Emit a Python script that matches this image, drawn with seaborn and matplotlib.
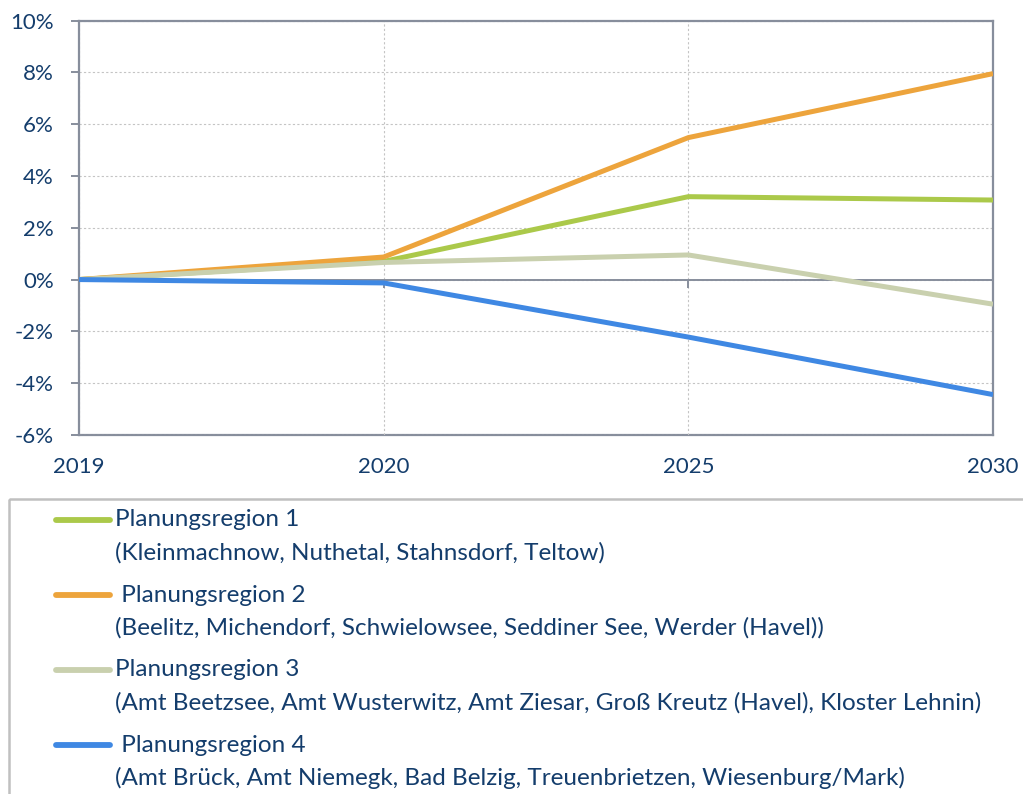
import matplotlib
matplotlib.use("Agg")
import matplotlib.pyplot as plt
from matplotlib.lines import Line2D
from matplotlib.patches import Rectangle
from matplotlib.ticker import FuncFormatter, MultipleLocator
import pandas as pd
import seaborn as sns

# Population change relative to 2019 (fraction)
years = ["2019", "2020", "2025", "2030"]
region_1 = [0.0, 0.0070, 0.0320, 0.0307]
region_2 = [0.0, 0.0087, 0.0548, 0.0795]
region_3 = [0.0, 0.0066, 0.0095, -0.0095]
region_4 = [0.0, -0.0013, -0.0222, -0.0444]

series_names = ["Planungsregion 1", "Planungsregion 2",
                "Planungsregion 3", "Planungsregion 4"]
series_members = [
    "(Kleinmachnow, Nuthetal, Stahnsdorf, Teltow)",
    "(Beelitz, Michendorf, Schwielowsee, Seddiner See, Werder (Havel))",
    "(Amt Beetzsee, Amt Wusterwitz, Amt Ziesar, Groß Kreutz (Havel), Kloster Lehnin)",
    "(Amt Brück, Amt Niemegk, Bad Belzig, Treuenbrietzen, Wiesenburg/Mark)",
]
legend_titles = ["Planungsregion 1", " Planungsregion 2",
                 "Planungsregion 3", " Planungsregion 4"]
colors = ["#abc94a", "#eda43c", "#c9d0ae", "#3f88e3"]

sns.set_theme(style="white")
plt.rcParams["font.family"] = ["Lato", "DejaVu Sans"]

text_color = "#143d6c"
spine_color = "#878e9c"
grid_color = "#c4c4c4"

rows = []
for name, vals in zip(series_names, [region_1, region_2, region_3, region_4]):
    for i, (yr, v) in enumerate(zip(years, vals)):
        rows.append({"pos": i, "Jahr": yr, "Region": name, "Wert": v})
df = pd.DataFrame(rows)

fig = plt.figure(figsize=(10.23, 7.94), dpi=100)
W, H = 1023, 794
ax = fig.add_axes([79 / W, 1 - 435 / H, (993 - 79) / W, (435 - 20.5) / H])

sns.lineplot(data=df, x="pos", y="Wert", hue="Region", hue_order=series_names,
             palette=colors, linewidth=3.6, sort=False, legend=False, ax=ax,
             solid_capstyle="butt", zorder=3)

ax.set_xlim(0, 3)
ax.set_ylim(-0.06, 0.10)
ax.set_xlabel("")
ax.set_ylabel("")
ax.yaxis.set_major_locator(MultipleLocator(0.02))
ax.yaxis.set_major_formatter(FuncFormatter(lambda v, p: f"{round(v * 100):d}%"))
ax.set_xticks(range(len(years)))

# grid
ax.grid(True, axis="both", color=grid_color, linestyle=(0, (2, 2)), linewidth=0.8)
ax.set_axisbelow(True)

for side in ["left", "right", "top"]:
    ax.spines[side].set_visible(True)
    ax.spines[side].set_color(spine_color)
    ax.spines[side].set_linewidth(1.6)

# primary x-axis drawn along the zero line with small tick marks
ax.spines["bottom"].set_position(("data", 0))
ax.spines["bottom"].set_color(spine_color)
ax.spines["bottom"].set_linewidth(1.4)
ax.spines["bottom"].set_zorder(2)
ax.tick_params(axis="x", bottom=True, length=6, width=1.4, color=spine_color,
               direction="out", labelbottom=False)
ax.tick_params(axis="y", left=True, length=6, width=1.4, color=spine_color,
               labelsize=16, labelcolor=text_color, pad=12)

# year labels along the lower border
sec = ax.secondary_xaxis("bottom")
sec.set_xticks(range(len(years)))
sec.set_xticklabels(years)
sec.tick_params(axis="x", length=0, labelsize=16, labelcolor=text_color, pad=16)
sec.spines["bottom"].set_color(spine_color)
sec.spines["bottom"].set_linewidth(1.6)

# legend box below the chart
leg_ax = fig.add_axes([0, 0, 1, 1], facecolor="none")
leg_ax.set_axis_off()
leg_ax.set_xlim(0, W)
leg_ax.set_ylim(H, 0)
leg_ax.add_patch(Rectangle((9, 499), 1040, 320, fill=False,
                           edgecolor="#c0c0c0", linewidth=1.8, clip_on=False))
y0 = 520
for i, (title, members, c) in enumerate(zip(legend_titles, series_members, colors)):
    y = y0 + i * 75
    leg_ax.add_line(Line2D([56, 110], [y, y], color=c, linewidth=4.2,
                           solid_capstyle="round"))
    leg_ax.text(115, y, title, fontsize=17.5, color=text_color, va="center", ha="left")
    leg_ax.text(115, y + 33, members, fontsize=17.5, color=text_color,
                va="center", ha="left")

fig.savefig("out.png", dpi=100, facecolor="white")
